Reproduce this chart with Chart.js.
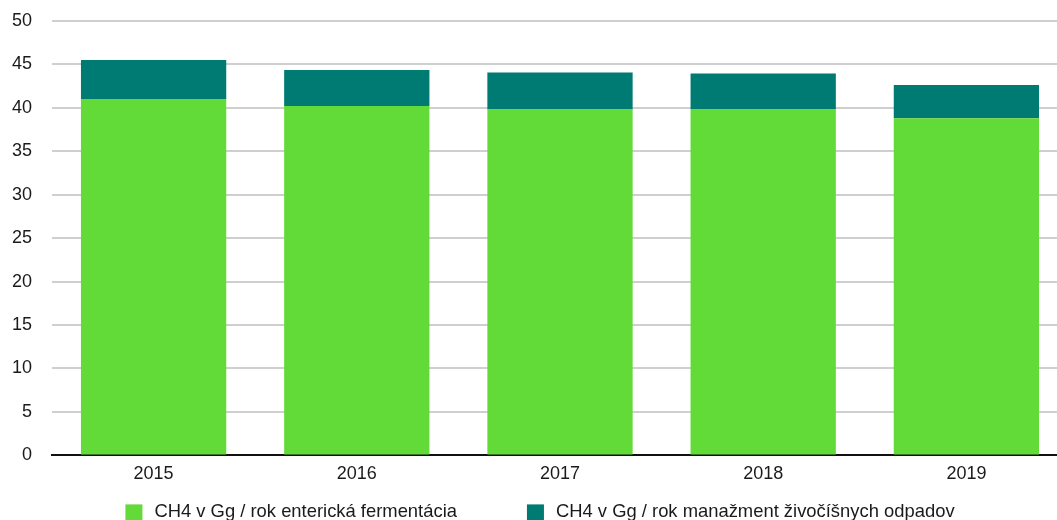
<!DOCTYPE html>
<html>
<head>
<meta charset="utf-8">
<script src="https://cdn.jsdelivr.net/npm/chart.js@4"></script>
<style>
  html, body { margin: 0; padding: 0; overflow: hidden; background: #fff; }
  #wrap { position: absolute; left: 0; top: -10px; width: 1075px; height: 530px; }
</style>
</head>
<body>
<div id="wrap"><canvas id="myChart"></canvas></div>
<script>
const years = ["2015", "2016", "2017", "2018", "2019"];
const enteric = [41.0, 40.2, 39.8, 39.8, 38.8];
const manure = [4.5, 4.15, 4.25, 4.15, 3.8];
const yTicks = [0, 5, 10, 15, 20, 25, 30, 35, 40, 45, 50];

const FONT = "'Liberation Sans', Arial, sans-serif";
Chart.defaults.font.family = FONT;
Chart.defaults.color = "#1a1a1a";

// legend drawn by hand so the spacing between items can match
const bottomLegend = {
  id: "bottomLegend",
  afterDraw(chart) {
    const c = chart.ctx;
    const items = chart.data.datasets;
    const box = 17, boxGap = 12, itemGap = 70;
    c.save();
    c.font = "18.4px " + FONT;
    c.textBaseline = "middle";
    const widths = items.map(d => box + boxGap + c.measureText(d.label).width);
    const total = widths.reduce((a, b) => a + b, 0) + itemGap * (items.length - 1);
    let x = 540 - total / 2;
    const y = chart.chartArea.bottom + 57;
    items.forEach((d, i) => {
      c.fillStyle = d.backgroundColor;
      c.fillRect(x, y - 8, box, box);
      c.fillStyle = "#1a1a1a";
      c.fillText(d.label, x + box + boxGap, y);
      x += widths[i] + itemGap;
    });
    c.restore();
  }
};

const ctx = document.getElementById("myChart").getContext("2d");
const myChart = new Chart(ctx, {
  type: "bar",
  data: {
    labels: years,
    datasets: [
      {
        label: "CH4 v Gg / rok enterická fermentácia",
        data: enteric,
        backgroundColor: "#62da37",
        categoryPercentage: 1,
        barPercentage: 0.715
      },
      {
        label: "CH4 v Gg / rok manažment živočíšnych odpadov",
        data: manure,
        backgroundColor: "#007b74",
        categoryPercentage: 1,
        barPercentage: 0.715
      }
    ]
  },
  options: {
    responsive: true,
    maintainAspectRatio: false,
    animation: false,
    layout: { padding: { top: 0, right: 7, left: 0, bottom: 35 } },
    plugins: {
      tooltip: { enabled: false },
      legend: { display: false }
    },
    scales: {
      x: {
        stacked: true,
        grid: { display: false },
        border: { display: true, color: "#111", width: 2 },
        ticks: { font: { size: 18 }, padding: 0 }
      },
      y: {
        stacked: true,
        min: 0,
        max: 50,
        afterBuildTicks: (axis) => {
          axis.ticks = yTicks.map(v => ({ value: v }));
        },
        afterFit: (axis) => { axis.width = 52; },
        grid: { color: "#cfcfcf", lineWidth: 2, drawTicks: false },
        border: { display: false },
        ticks: { font: { size: 18 }, padding: 20 }
      }
    }
  },
  plugins: [bottomLegend]
});
</script>
</body>
</html>
